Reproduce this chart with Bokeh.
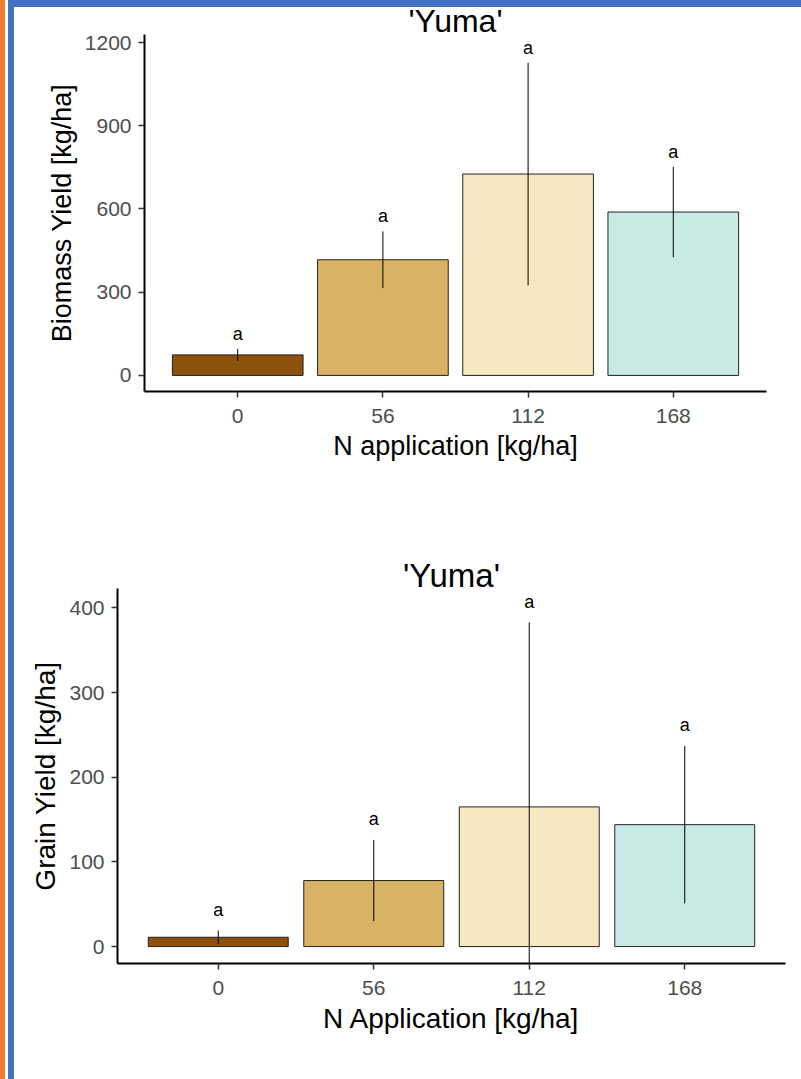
from bokeh.plotting import figure
from bokeh.layouts import row, column
from bokeh.models import ColumnDataSource, FactorRange, Range1d, FixedTicker, Title, Div
from bokeh.core.properties import value
from bokeh.embed import file_html
from bokeh.resources import INLINE

# N application rates (kg/ha) and the fill used for each rate
n_rates = ["0", "56", "112", "168"]
rate_fills = ["#8C510A", "#D8B365", "#F6E8C3", "#C7EAE5"]

# Biomass yield: mean and standard error per rate, with significance letters
biomass_mean = [74, 417, 726, 589]
biomass_se = [22, 102, 401, 163]
biomass_letters = ["a", "a", "a", "a"]
biomass_ticks = [0, 300, 600, 900, 1200]

# Grain yield: mean and standard error per rate, with significance letters
grain_mean = [11, 78, 165, 144]
grain_se = [8, 48, 218, 93]
grain_letters = ["a", "a", "a", "a"]
grain_ticks = [0, 100, 200, 300, 400]

FONT = "Liberation Sans"
ORANGE = "#ED7D31"
BLUE = "#4472C4"


def yield_panel(means, ses, letters, ticks, y_lo, y_hi, letter_gap, x_pad,
                ylabel, xlabel, width, height, left, right, top, bottom,
                title_size, axis_title_size, title_standoff):
    lower = [m - s for m, s in zip(means, ses)]
    upper = [m + s for m, s in zip(means, ses)]
    src = ColumnDataSource(dict(
        rate=n_rates, mean=means, lower=lower, upper=upper,
        letter_y=[u + letter_gap for u in upper], letter=letters,
        fill=rate_fills,
    ))
    p = figure(
        width=width, height=height,
        x_range=FactorRange(factors=n_rates, range_padding=x_pad),
        y_range=Range1d(y_lo, y_hi),
        output_backend="svg", toolbar_location=None,
        min_border_left=left, min_border_right=right,
        min_border_top=top, min_border_bottom=bottom,
        frame_align=False, margin=0,
    )
    p.outline_line_color = None
    p.xgrid.visible = False
    p.ygrid.visible = False
    p.background_fill_color = "white"
    p.border_fill_color = "white"

    p.vbar(x="rate", top="mean", bottom=0, width=0.9, fill_color="fill",
           line_color="#222222", line_width=1, source=src)
    p.segment(x0="rate", y0="lower", x1="rate", y1="upper",
              line_color="black", line_width=1, source=src)
    p.text(x="rate", y="letter_y", text="letter", text_align="center",
           text_baseline="middle", text_font=value(FONT),
           text_font_size="18px", text_color="black", source=src)

    p.yaxis.ticker = FixedTicker(ticks=ticks)
    for ax in (p.xaxis, p.yaxis):
        ax.axis_line_color = "black"
        ax.axis_line_width = 2
        ax.major_tick_line_color = "#333333"
        ax.major_tick_line_width = 1.5
        ax.major_tick_out = 6
        ax.major_tick_in = 0
        ax.minor_tick_line_color = None
        ax.major_label_text_font = FONT
        ax.major_label_text_font_size = "21px"
        ax.major_label_text_color = "#4D4D4D"
        ax.major_label_standoff = 7
        ax.axis_label_text_font = FONT
        ax.axis_label_text_font_size = axis_title_size
        ax.axis_label_text_font_style = "normal"
        ax.axis_label_text_color = "black"
        ax.axis_label_standoff = 5
    p.xaxis.major_label_standoff = 11
    p.xaxis.axis_label = xlabel
    p.yaxis.axis_label = ylabel

    p.add_layout(Title(text="'Yuma'", align="center", vertical_align="bottom",
                       standoff=title_standoff, text_font=FONT,
                       text_font_size=title_size, text_font_style="normal",
                       text_color="black"), "above")
    return p


# the biomass panel runs up to the page top; the blue rule sits over its top 7px
biomass_plot = yield_panel(
    biomass_mean, biomass_se, biomass_letters, biomass_ticks,
    -58, 1229, 54, 0.071, "Biomass Yield [kg/ha]", "N application [kg/ha]",
    787, 500, 130, 35, 34, 109, "32px", "27px", -9,
)

grain_plot = yield_panel(
    grain_mean, grain_se, grain_letters, grain_ticks,
    -20, 423, 24.5, 0.074, "Grain Yield [kg/ha]", "N Application [kg/ha]",
    787, 579, 103, 16, 88, 116, "33px", "28px", -10,
)

# left-hand page edge: orange rule, white gap, blue rule
edge = Div(width=14, height=1079, margin=0, styles={
    "background": f"linear-gradient(to right, {ORANGE} 0px, {ORANGE} 5px, "
                  f"white 5px, white 8px, {BLUE} 8px, {BLUE} 14px)",
})

# top page edge: blue rule, overlapping the panel below it
top_rule = Div(width=787, height=7, margin=(0, 0, -7, 0), styles={
    "background-color": BLUE, "position": "relative", "z-index": "5",
})

page = row(edge, column(top_rule, biomass_plot, grain_plot, spacing=0, margin=0),
           spacing=0, margin=0)

open("out.html", "w").write(file_html(page, INLINE))
